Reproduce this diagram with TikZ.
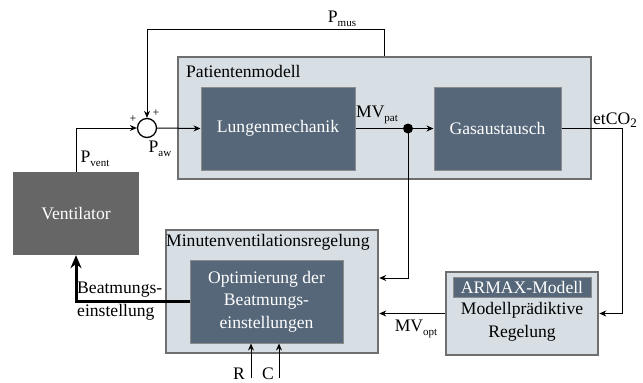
\documentclass[tikz,border=0pt]{standalone}
\usepackage{fontspec}
\setmainfont{Liberation Serif}
\usetikzlibrary{arrows.meta,calc}
\definecolor{boxlight}{HTML}{D7DFE4}
\definecolor{boxdark}{HTML}{56677A}
\definecolor{bordergray}{HTML}{6E6E6E}
\definecolor{innerborder}{HTML}{8C8C8C}
\definecolor{ventgray}{HTML}{666666}
\newcommand\lsub[2]{#1\raisebox{-0.45ex}{\fontsize{11}{12}\selectfont #2}}
\tikzset{
  every node/.style={font=\fontsize{17.6}{22.5}\selectfont, inner sep=0pt},
  outerbox/.style={draw=bordergray, fill=boxlight, line width=2.5pt, rectangle},
  innerbox/.style={draw=innerborder, fill=boxdark, line width=1pt, rectangle, text=white, align=center},
  ventbox/.style={fill=ventgray, rectangle, text=white},
  arr/.style={draw=black, line width=1pt, -{Stealth[length=7pt,width=6pt]}},
  thickarr/.style={draw=black, line width=3pt, -{Stealth[length=13pt,width=11pt]}},
  sumnode/.style={circle, draw=black, line width=1.3pt, fill=white, minimum size=19pt},
  dotnode/.style={circle, fill=black, minimum size=10pt},
  lbl/.style={text=black},
  plus/.style={font=\fontsize{12}{12}\selectfont}
}
\begin{document}
\begin{tikzpicture}[x=1pt,y=-1pt]
\useasboundingbox (0,0) rectangle (643,383);
% boxes
\node[outerbox, minimum width=413pt, minimum height=122pt] (pat) at (384.5,118) {};
\node[anchor=west] (patlbl) at (186,71) {Patientenmodell};
\node[innerbox, minimum width=154pt, minimum height=83pt] (lung) at (278,128.5) {Lungenmechanik};
\node[innerbox, minimum width=127pt, minimum height=83pt] (gas) at (497.5,128.5) {Gasaustausch};
\node[ventbox, minimum width=126pt, minimum height=83pt] (vent) at (76,213.5) {Ventilator};
\node[outerbox, minimum width=212pt, minimum height=123pt] (min) at (272,291.5) {};
\node[anchor=west] (minlbl) at (166,242) {Minutenventilationsregelung};
\node[innerbox, minimum width=153pt, minimum height=83pt] (opt) at (266.5,301.5) {Optimierung der\\Beatmungs-\\einstellungen};
\node[outerbox, minimum width=152pt, minimum height=83pt] (mpc) at (522,313.5) {};
\node[innerbox, minimum width=138pt, minimum height=20pt] (armax) at (522,287) {ARMAX-Modell};
\node[align=center] (mpclbl) at (522,322) {Modellprädiktive\\Regelung};
\node[sumnode] (sum) at (147,128) {};
\node[dotnode] (dot) at (408,128.5) {};
% connectors
\coordinate (pmtop) at (147,29);
\draw[arr] (pat.north) |- (pmtop) -- (sum.north);
\draw[arr] (vent.north) |- (sum.west);
\draw[arr] (sum.east) -- (lung.west);
\draw[arr] (lung.east) -- (gas.west);
\draw[arr] (dot.center) |- (min.east |- 0,278);
\coordinate (etc) at (622,128.5);
\draw[arr] (gas.east) -- (etc) |- (mpc.east);
\draw[arr] (mpc.west) -- (min.east |- mpc.west);
\draw[thickarr] (opt.west) -| (vent.south);
\coordinate (rin) at (251,378);
\coordinate (cin) at (279,378);
\draw[arr] (rin) -- (rin |- opt.south);
\draw[arr] (cin) -- (cin |- opt.south);
% labels
\node[lbl] (lpmus) at (342,19) {\lsub{P}{mus}};
\node[lbl] (lpvent) at (95,159) {\lsub{P}{vent}};
\node[lbl] (lpaw) at (160,149) {\lsub{P}{aw}};
\node[plus] (p1) at (133,119) {+};
\node[plus] (p2) at (156,113) {+};
\node[lbl] (lmvpat) at (377,115) {\lsub{MV}{pat}};
\node[lbl] (letco) at (615,120) {etCO\raisebox{-0.45ex}{\fontsize{13}{13}\selectfont 2}};
\node[lbl] (lmvopt) at (416,329) {\lsub{MV}{opt}};
\node[lbl, anchor=west, align=left] (lbeat) at (77,301) {Beatmungs-\\einstellung};
\node[lbl] (lr) at (239,374) {R};
\node[lbl] (lc) at (268,374) {C};
\end{tikzpicture}
\end{document}
